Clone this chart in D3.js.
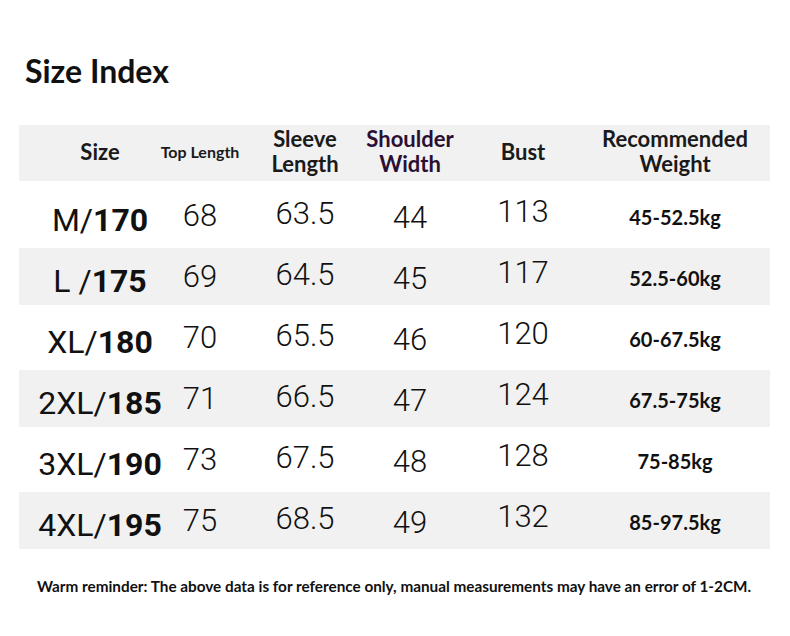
<!DOCTYPE html><html><head><meta charset="utf-8"><script src="https://d3js.org/d3.v7.min.js"></script>
<style>body{margin:0;background:#fff}</style></head><body><svg id="c" width="790" height="636"></svg>
<script>
const columns=["Size","Top Length","Sleeve\nLength","Shoulder\nWidth","Bust","Recommended\nWeight"];
const sizes=["M/170","L /175","XL/180","2XL/185","3XL/190","4XL/195"];
const topLength=["68","69","70","71","73","75"];
const sleeveLength=["63.5","64.5","65.5","66.5","67.5","68.5"];
const shoulderWidth=["44","45","46","47","48","49"];
const bust=["113","117","120","124","128","132"];
const weight=["45-52.5kg","52.5-60kg","60-67.5kg","67.5-75kg","75-85kg","85-97.5kg"];
const svg=d3.select("#c");
svg.append("text").attr("x",25).attr("y",83).attr("font-family","Lato").attr("font-weight",700).attr("font-size",32).attr("fill","#111").text("Size Index");
const colX=d3.scaleOrdinal().domain(d3.range(6)).range([100,200,305,410,523,675]);
const y=d3.scaleBand().domain(d3.range(-1,6)).range([124,551]);
svg.append("rect").attr("x",19).attr("y",125).attr("width",751).attr("height",56).attr("fill","#f1f1f1");
[1,3,5].forEach(i=>svg.append("rect").attr("x",19).attr("y",y(i)+2).attr("width",751).attr("height",y.bandwidth()-4).attr("fill","#f1f1f1"));
columns.forEach((c,i)=>{
  const lines=c.split("\n");
  const t=svg.append("text").attr("text-anchor","middle").attr("font-family","Lato").attr("font-weight",700)
   .attr("font-size",i==1?16:22).attr("fill",i==3?"#2b0f33":"#1a1a1a");
  lines.forEach((l,k)=>t.append("tspan").attr("x",colX(i)).attr("y",lines.length==1?(i==1?158:160):147+k*25).text(l));
});
const cols=[sizes,topLength,sleeveLength,shoulderWidth,bust,weight];
const yOff=[[0,0,0,0,0,0],[0,0,0,0,0,0],[-6,-6,-6,-6,-6,-6],[0,0,0,0,0,0],[-2,-2,-2,-2,-2,-2],[0,0,0,0,0,0]];
cols.forEach((arr,ci)=>arr.forEach((v,ri)=>{
  const cy=y(ri)+y.bandwidth()/2+2;
  let t=svg.append("text").attr("text-anchor","middle").attr("x",colX(ci)).attr("fill","#111");
  if(ci==0){
    const [a,b]=v.split("/");
    t.attr("y",cy+13).attr("font-family","Roboto").attr("font-size",32);
    t.append("tspan").attr("font-weight",400).text(a+"/");
    t.append("tspan").attr("font-weight",700).text(b);
  } else if(ci==5){
    t.attr("y",cy+7).attr("font-family","Lato").attr("font-weight",700).attr("font-size",20).text(v);
  } else {
    t.attr("y",cy+(ci==2?12:ci==1?8:ci==3?10:6)+yOff[ci][ri]).attr("font-family","Roboto").attr("font-weight",300).attr("font-size",31).text(v);
  }
}));
svg.append("text").attr("x",394).attr("y",592).attr("text-anchor","middle").attr("font-family","Lato").attr("font-weight",700).attr("font-size",15.3).attr("fill","#111")
 .text("Warm reminder: The above data is for reference only, manual measurements may have an error of 1-2CM.");
</script></body></html>
